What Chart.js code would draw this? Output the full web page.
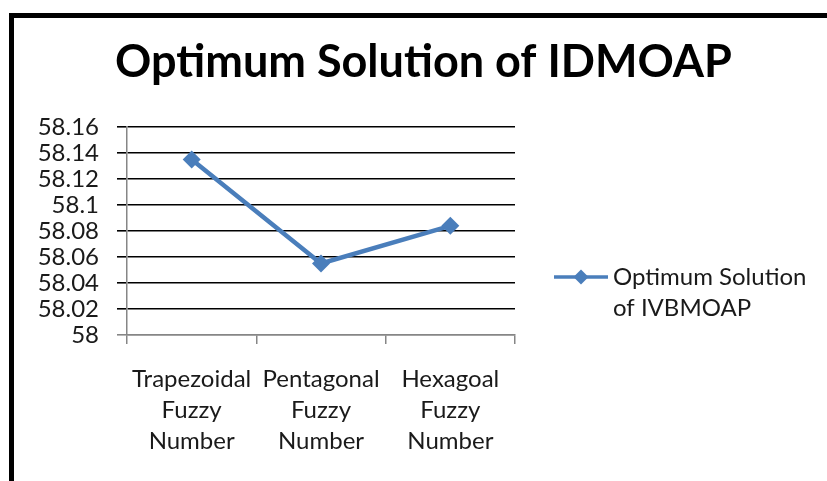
<!DOCTYPE html>
<html>
<head>
<meta charset="utf-8">
<script src="https://cdn.jsdelivr.net/npm/chart.js@4/dist/chart.umd.min.js"></script>
<style>
html, body { margin: 0; padding: 0; background: #fff; overflow: hidden; }
#wrap { position: relative; width: 827px; height: 481px; }
#frame { position: absolute; left: 9px; top: 13px; width: 900px; height: 600px;
         border-left: 5px solid #000; border-top: 5px solid #000; pointer-events: none; }
</style>
</head>
<body>
<div id="wrap">
  <canvas id="optimumChart"></canvas>
  <div id="frame"></div>
</div>
<script>
var categories = [
    ['Trapezoidal', 'Fuzzy', 'Number'],
    ['Pentagonal', 'Fuzzy', 'Number'],
    ['Hexagoal', 'Fuzzy', 'Number']
]
var legendLines = ['Optimum Solution', 'of IVBMOAP']
var optimumValues = [58.135, 58.055, 58.084]
var yTicks = [58, 58.02, 58.04, 58.06, 58.08, 58.1, 58.12, 58.14, 58.16]

var blue = '#4A7EBB'
var axisGrey = '#868686'
Chart.defaults.font.family = 'Lato'
Chart.defaults.color = '#1a1a1a'

// legend drawn by hand so the label can wrap on two lines like the original
var sideLegend = {
    id: 'sideLegend',
    afterDraw: function (chart) {
        var ctx = chart.ctx
        var area = chart.chartArea
        var x0 = area.right + 39
        var y0 = area.top + 150
        ctx.save()
        ctx.strokeStyle = blue
        ctx.lineWidth = 3.5
        ctx.beginPath()
        ctx.moveTo(x0, y0)
        ctx.lineTo(x0 + 54, y0)
        ctx.stroke()
        ctx.fillStyle = blue
        ctx.beginPath()
        ctx.moveTo(x0 + 27, y0 - 7.5)
        ctx.lineTo(x0 + 34.5, y0)
        ctx.lineTo(x0 + 27, y0 + 7.5)
        ctx.lineTo(x0 + 19.5, y0)
        ctx.closePath()
        ctx.fill()
        ctx.fillStyle = '#1a1a1a'
        ctx.font = '24px Lato'
        ctx.textAlign = 'left'
        ctx.textBaseline = 'middle'
        for (let i = 0; i < legendLines.length; i++) {
            ctx.fillText(legendLines[i], x0 + 59, y0 + i * 31)
        }
        ctx.restore()
    }
}

var mychart = new Chart(document.getElementById('optimumChart'), {
    type: 'line',
    data: {
        labels: categories,
        datasets: [{
            label: legendLines.join(' '),
            data: optimumValues,
            borderColor: blue,
            backgroundColor: blue,
            borderWidth: 4.5,
            pointStyle: 'rectRot',
            pointRadius: 9,
            pointBorderWidth: 0,
            pointBackgroundColor: blue,
            tension: 0,
            fill: false
        }]
    },
    options: {
        responsive: true,
        maintainAspectRatio: false,
        animation: false,
        layout: { padding: { left: 20, right: 0, top: 0, bottom: 0 } },
        plugins: {
            legend: { display: false },
            tooltip: { enabled: false },
            title: {
                display: true,
                text: 'Optimum Solution of IDMOAP',
                color: '#000',
                font: { size: 45, weight: 'bold' },
                padding: { top: 35, bottom: 38 }
            }
        },
        scales: {
            x: {
                offset: true,
                grid: {
                    offset: true,
                    drawOnChartArea: false,
                    tickLength: 9,
                    color: axisGrey,
                    lineWidth: 1.5
                },
                border: { color: axisGrey, width: 1.5 },
                ticks: {
                    autoSkip: false,
                    maxRotation: 0,
                    padding: 20,
                    font: { size: 24, lineHeight: '31px' }
                },
                afterFit: function (scale) { scale.height = 146 }
            },
            y: {
                min: 58,
                max: 58.16,
                afterBuildTicks: function (scale) {
                    scale.ticks = yTicks.map(function (v) { return { value: v } })
                },
                grid: {
                    tickLength: 10,
                    lineWidth: 1.6,
                    color: function (c) { return c.tick && c.tick.value === 58 ? axisGrey : '#000' }
                },
                border: { color: axisGrey, width: 1.5 },
                ticks: {
                    autoSkip: false,
                    padding: 18,
                    font: { size: 24 },
                    callback: function (v) { return String(v) }
                },
                afterFit: function (scale) { scale.width = 107 }
            },
            // empty axis on the right that only keeps room for the legend
            legendRoom: {
                position: 'right',
                axis: 'y',
                type: 'linear',
                grid: { display: false },
                border: { display: false },
                ticks: { display: false },
                afterFit: function (scale) { scale.width = 312 }
            }
        }
    },
    plugins: [sideLegend]
});
</script>
</body>
</html>
